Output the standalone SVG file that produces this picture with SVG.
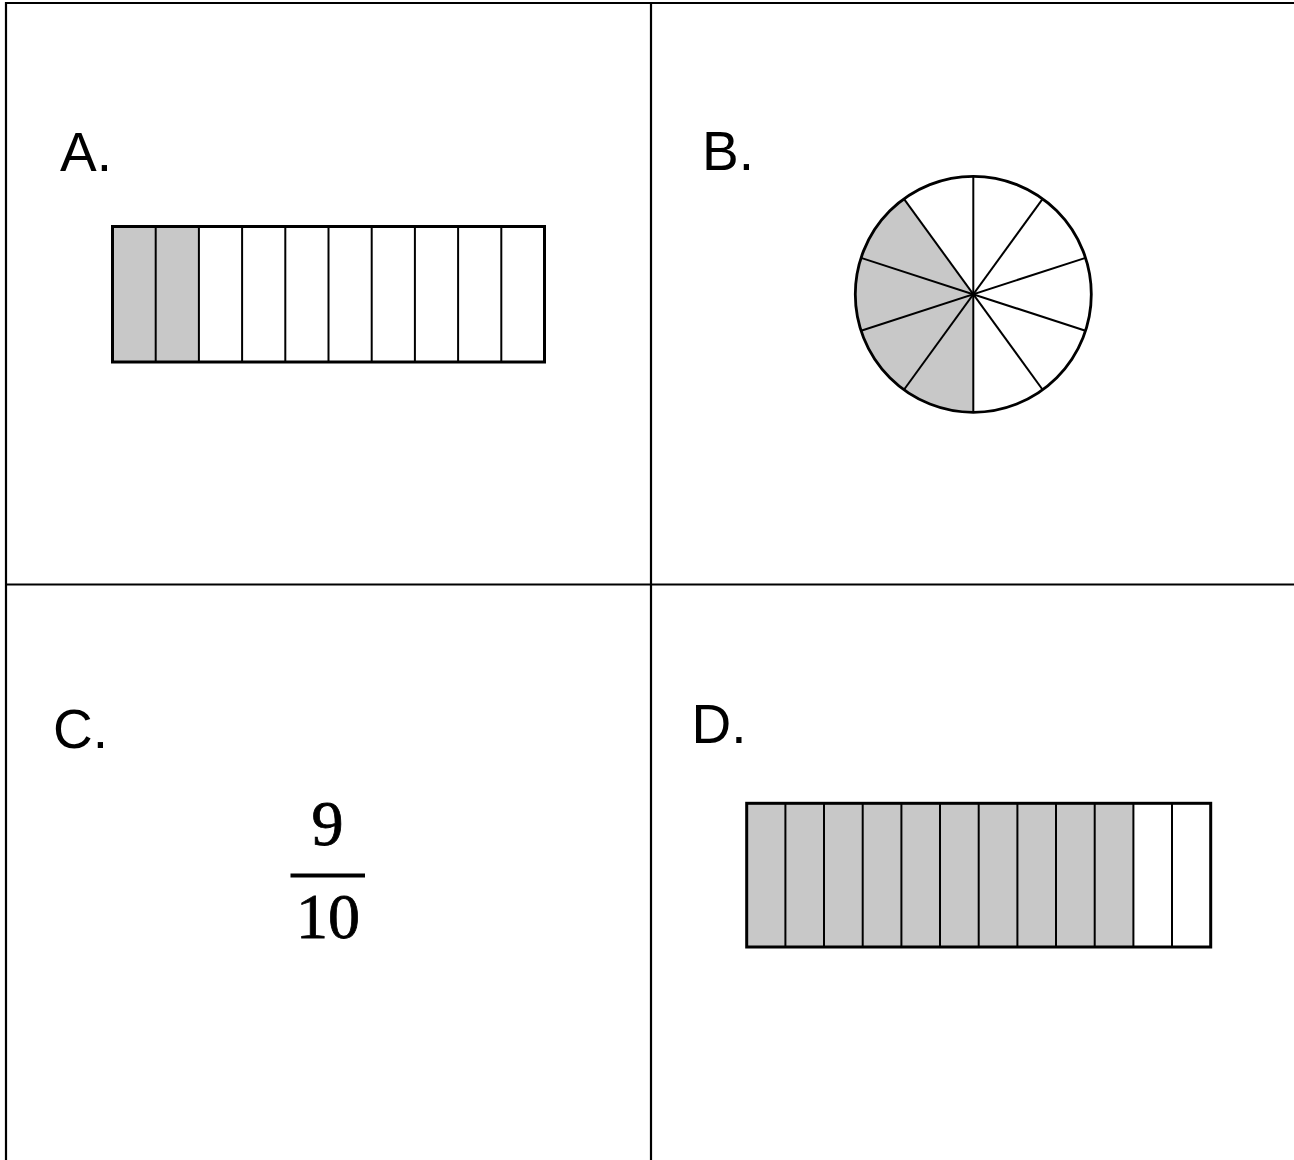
<svg xmlns="http://www.w3.org/2000/svg" width="1294" height="1160" viewBox="0 0 1294 1160">
<style>
.grid{stroke:#000;stroke-width:2.2;fill:none}
.lbl{font-family:"Liberation Sans",Arial,sans-serif;font-size:55px;fill:#000}
.frac{font-family:"Liberation Serif","DejaVu Serif",serif;font-size:64px;fill:#000;stroke:#000;stroke-width:0.8;text-anchor:middle}
.out{fill:none;stroke:#000;stroke-width:3}
.div{stroke:#000;stroke-width:2}
.sh{fill:#c8c8c8}
</style>
<rect width="1294" height="1160" fill="#fff"/>
<g id="grid">
<line class="grid" x1="6" y1="3" x2="1294" y2="3"/>
<line class="grid" x1="6" y1="2" x2="6" y2="1160"/>
<line class="grid" x1="651" y1="3" x2="651" y2="1160"/>
<line class="grid" x1="6" y1="584.5" x2="1294" y2="584.5"/>
</g>
<g id="panelA">
<text class="lbl" x="60" y="171">A.</text>
<rect class="sh" x="112.5" y="226.5" width="86.4" height="135.5"/>
<g class="div">
<line x1="155.7" y1="226.5" x2="155.7" y2="362"/>
<line x1="198.9" y1="226.5" x2="198.9" y2="362"/>
<line x1="242.1" y1="226.5" x2="242.1" y2="362"/>
<line x1="285.3" y1="226.5" x2="285.3" y2="362"/>
<line x1="328.5" y1="226.5" x2="328.5" y2="362"/>
<line x1="371.7" y1="226.5" x2="371.7" y2="362"/>
<line x1="414.9" y1="226.5" x2="414.9" y2="362"/>
<line x1="458.1" y1="226.5" x2="458.1" y2="362"/>
<line x1="501.3" y1="226.5" x2="501.3" y2="362"/>
</g>
<rect class="out" x="112.5" y="226.5" width="432" height="135.5"/>
</g>
<g id="panelB">
<text class="lbl" x="702" y="169.5">B.</text>
<path class="sh" d="M973.3 294.3 L973.3 412.3 A118 118 0 0 1 903.9 198.8 Z"/>
<g class="div" transform="translate(973.3 294.3)">
<line x1="0" y1="-118" x2="0" y2="118"/>
<line x1="0" y1="-118" x2="0" y2="118" transform="rotate(36)"/>
<line x1="0" y1="-118" x2="0" y2="118" transform="rotate(72)"/>
<line x1="0" y1="-118" x2="0" y2="118" transform="rotate(108)"/>
<line x1="0" y1="-118" x2="0" y2="118" transform="rotate(144)"/>
</g>
<circle cx="973.3" cy="294.3" r="118" fill="none" stroke="#000" stroke-width="2.8"/>
</g>
<g id="panelC">
<text class="lbl" x="53" y="748">C.</text>
<text class="frac" x="327.5" y="845">9</text>
<line x1="290.5" y1="875.5" x2="365" y2="875.5" stroke="#000" stroke-width="4"/>
<text class="frac" x="328" y="938">10</text>
</g>
<g id="panelD">
<text class="lbl" x="691.5" y="742.5">D.</text>
<rect class="sh" x="746.7" y="803.3" width="386.7" height="143.7"/>
<g class="div">
<line x1="785.4" y1="803.3" x2="785.4" y2="947"/>
<line x1="824" y1="803.3" x2="824" y2="947"/>
<line x1="862.7" y1="803.3" x2="862.7" y2="947"/>
<line x1="901.4" y1="803.3" x2="901.4" y2="947"/>
<line x1="940" y1="803.3" x2="940" y2="947"/>
<line x1="978.7" y1="803.3" x2="978.7" y2="947"/>
<line x1="1017.4" y1="803.3" x2="1017.4" y2="947"/>
<line x1="1056" y1="803.3" x2="1056" y2="947"/>
<line x1="1094.7" y1="803.3" x2="1094.7" y2="947"/>
<line x1="1133.4" y1="803.3" x2="1133.4" y2="947"/>
<line x1="1172" y1="803.3" x2="1172" y2="947"/>
</g>
<rect class="out" x="746.7" y="803.3" width="464" height="143.7"/>
</g>
</svg>
